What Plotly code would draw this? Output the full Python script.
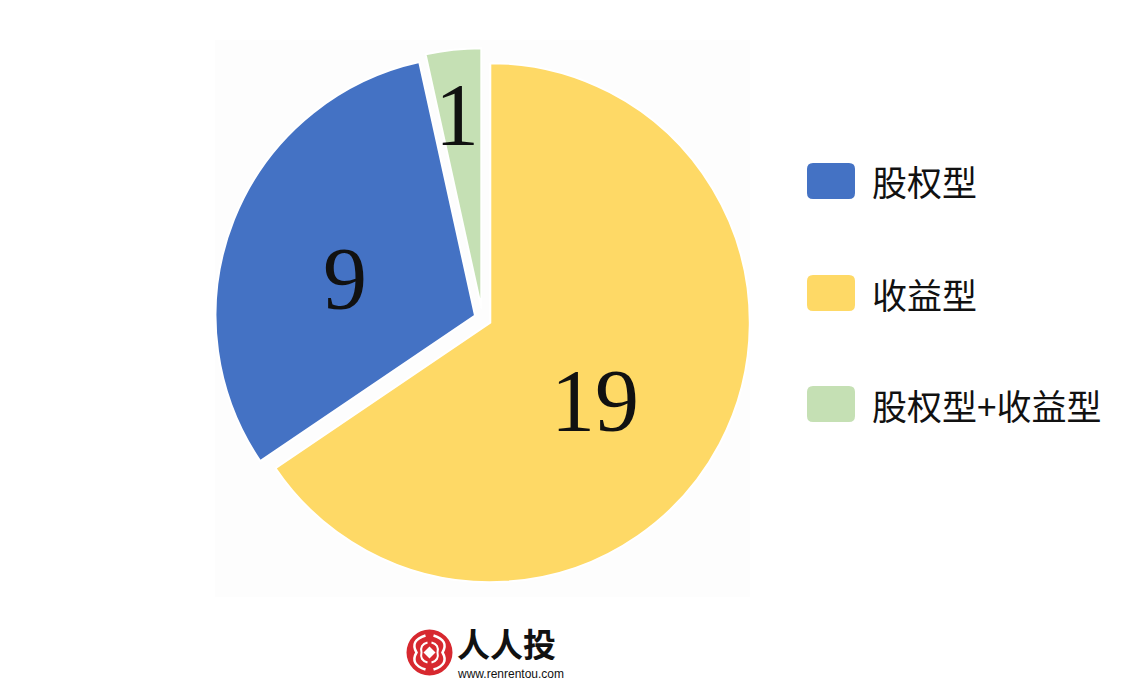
import math
import plotly.graph_objects as go

# ---- data ----
categories = ["收益型", "股权型", "股权型+收益型"]
values = [19, 9, 1]
colors = ["#FED966", "#4472C4", "#C5E0B4"]
legend_order = ["股权型", "收益型", "股权型+收益型"]
brand_name = "人人投"
brand_url = "www.renrentou.com"

# ---- layout constants ----
W, H = 1138, 679
pulls = [0.034, 0.031, 0.042]
cx, cy, r = 482.5, 318.5, 259.5          # pie centre / radius in px
half = r * (1 + max(pulls))
dom_x = [(cx - half) / W, (cx + half) / W]
dom_y = [1 - (cy + half) / H, 1 - (cy - half) / H]

fig = go.Figure()
fig.add_trace(go.Pie(
    labels=categories, values=values, sort=False, direction="clockwise",
    rotation=0, pull=pulls, textinfo="none", showlegend=False,
    marker=dict(colors=colors, line=dict(color="white", width=2)),
    domain=dict(x=dom_x, y=dom_y), hoverinfo="label+value",
))

def px2paper(x, y):
    return x / W, 1 - y / H

annotations = []
shapes = []

# value labels, placed from the data angles
label_frac = [0.51, 0.52, 0.74]
label_shift = [9.5, -7.0, -1.0]
total = sum(values)
start = 0.0
for i, v in enumerate(values):
    span = 360.0 * v / total
    mid = start + span / 2
    th = math.radians(mid)
    ax = cx + pulls[i] * r * math.sin(th)
    ay = cy - pulls[i] * r * math.cos(th)
    t2 = math.radians(mid + label_shift[i])
    lx = ax + label_frac[i] * r * math.sin(t2)
    ly = ay - label_frac[i] * r * math.cos(t2)
    px_, py_ = px2paper(lx, ly - 3)
    annotations.append(dict(
        x=px_, y=py_, xref="paper", yref="paper", text=str(v), showarrow=False,
        xanchor="center", yanchor="middle",
        font=dict(family="Liberation Serif, Times New Roman, serif", size=88, color="#111111"),
    ))
    start += span

# faint backdrop behind pie
shapes.append(dict(type="rect", xref="paper", yref="paper",
                   x0=215 / W, x1=750 / W, y0=1 - 597 / H, y1=1 - 40 / H,
                   fillcolor="#FDFDFD", line=dict(width=0), layer="below"))

# custom legend
col_map = dict(zip(categories, colors))
leg_y = [181, 293, 404]
for name, yc in zip(legend_order, leg_y):
    x0, x1 = 807, 855
    y0, y1 = yc - 18, yc + 18
    rr = 6
    path = (f"M {x0+rr},{y0} L {x1-rr},{y0} Q {x1},{y0} {x1},{y0+rr} "
            f"L {x1},{y1-rr} Q {x1},{y1} {x1-rr},{y1} L {x0+rr},{y1} "
            f"Q {x0},{y1} {x0},{y1-rr} L {x0},{y0+rr} Q {x0},{y0} {x0+rr},{y0} Z")
    shapes.append(dict(type="path", xref="x", yref="y", path=path,
                       fillcolor=col_map[name], line=dict(width=0)))
    tx, ty = px2paper(870, yc)
    annotations.append(dict(
        x=tx, y=ty, xref="paper", yref="paper", text=name, showarrow=False,
        xanchor="left", yanchor="middle",
        font=dict(family="Noto Sans CJK SC", size=35, color="#111111"),
    ))

# brand logo
lcx, lcy, lr = 429.5, 652.5, 23
shapes.append(dict(type="circle", xref="x", yref="y",
                   x0=lcx - lr, x1=lcx + lr, y0=lcy - lr, y1=lcy + lr,
                   fillcolor="#D7282F", line=dict(width=0)))
d = 6
shapes.append(dict(type="path", xref="x", yref="y",
                   path=f"M {lcx},{lcy-d} L {lcx+d},{lcy} L {lcx},{lcy+d} L {lcx-d},{lcy} Z",
                   fillcolor="white", line=dict(width=0)))
for sgn in (-1, 1):
    p = (f"M {lcx+sgn*4},{lcy-17} Q {lcx+sgn*20},{lcy-12} {lcx+sgn*13},{lcy} "
         f"Q {lcx+sgn*20},{lcy+12} {lcx+sgn*4},{lcy+17}")
    shapes.append(dict(type="path", xref="x", yref="y", path=p,
                       line=dict(color="white", width=2.5)))
    p2 = (f"M {lcx+sgn*2},{lcy-10} Q {lcx+sgn*10},{lcy-8} {lcx+sgn*8},{lcy} "
          f"Q {lcx+sgn*10},{lcy+8} {lcx+sgn*2},{lcy+10}")
    shapes.append(dict(type="path", xref="x", yref="y", path=p2,
                       line=dict(color="white", width=2)))

bx, by = px2paper(455, 643)
annotations.append(dict(x=bx, y=by, xref="paper", yref="paper", text=f"<b>{brand_name}</b>",
                        showarrow=False, xanchor="left", yanchor="middle", height=34,
                        font=dict(family="Noto Sans CJK SC", size=33, color="#111111")))
ux, uy = px2paper(455, 673)
annotations.append(dict(x=ux, y=uy, xref="paper", yref="paper", text=brand_url,
                        showarrow=False, xanchor="left", yanchor="middle", height=13,
                        font=dict(family="Liberation Sans, Arial", size=12, color="#111111")))

fig.update_layout(
    width=W, height=H, margin=dict(l=0, r=0, t=0, b=0),
    paper_bgcolor="white", plot_bgcolor="white",
    xaxis=dict(range=[0, W], visible=False, fixedrange=True),
    yaxis=dict(range=[H, 0], visible=False, fixedrange=True),
    shapes=shapes, annotations=annotations,
)
fig.write_html("out.html", config={"displayModeBar": False},
               post_script="document.body.style.margin='0px';document.body.style.overflow='hidden';")
